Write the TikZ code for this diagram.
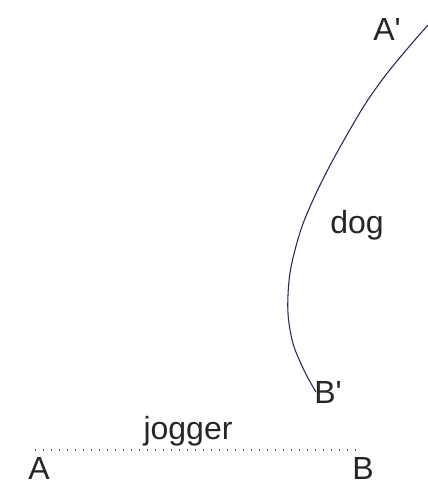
\documentclass[tikz,border=0pt]{standalone}
\usepackage{fontspec}
\setmainfont{Liberation Sans}
\usetikzlibrary{positioning}
\definecolor{dogpath}{HTML}{23285A}

\begin{document}
\begin{tikzpicture}[x=0.75pt, y=-0.75pt, font=\fontsize{24}{27}\selectfont,
    lbl/.style={anchor=base, inner sep=0pt, text=black!85},
    track/.style={black!65, line width=0.9pt, dash pattern=on 0.9pt off 5.1pt}]
    \useasboundingbox (0,0) rectangle (428,486);
    \node[lbl] (A) at (39,479) {A};
    \node[lbl] (B) at (363,479) {B};
    \node[lbl] (jogger) at (188,439) {jogger};
    \node[lbl] (Ap) at (387,40) {A\textquotesingle};
    \node[lbl] (Bp) at (328,403) {B\textquotesingle};
    \node[lbl] (dog) at (357,233) {dog};
    \coordinate (jstart) at (35,450);
    \coordinate (jend) at (360,450);
    \coordinate (dstart) at (428,25);
    \coordinate (dend) at (316,392);
    \draw[track] (jstart) -- (jend);
    \draw[dogpath, line width=0.8pt] plot[smooth, tension=0.7] coordinates {
      (dstart) (382,80) (348,133) (313,200) (295,250)
      (288,295) (291,335) (302,366) (dend)};
  \end{tikzpicture}
\end{document}
